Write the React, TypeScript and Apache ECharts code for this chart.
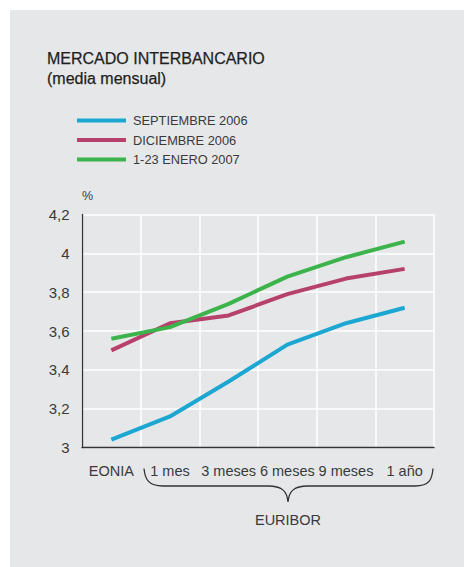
import React, { useEffect, useRef } from "react";
import * as echarts from "echarts";

const categories = ["EONIA", "1 mes", "3 meses", "6 meses", "9 meses", "1 año"];
const seriesNames = ["SEPTIEMBRE 2006", "DICIEMBRE 2006", "1-23 ENERO 2007"];
const septiembre2006 = [3.04, 3.16, 3.34, 3.53, 3.64, 3.72];
const diciembre2006 = [3.5, 3.64, 3.68, 3.79, 3.87, 3.92];
const enero2007 = [3.56, 3.62, 3.74, 3.88, 3.98, 4.06];
const seriesColors = ["#1ba7d2", "#b6416c", "#3cb34b"];

const FONT = "'Liberation Sans', Arial, Helvetica, sans-serif";
const TEXT = "#3a3a3a";

const bracePath =
  "M144,468.5 C145,479 148,486 163,486 L268,486 C282,486 287,491 288,502 C289,491 294,486 308,486 L415,486 C430,486 432,479 433,468.5";

let registered = false;

export default function App() {
  const ref = useRef<HTMLDivElement>(null);
  useEffect(() => {
    document.body.style.margin = "0";
    if (!registered) {
      echarts.graphic.registerShape("brace", echarts.graphic.extendPath(bracePath, {}) as any);
      registered = true;
    }
    const chart = echarts.init(ref.current!, null, { renderer: "svg" });
    const data = [septiembre2006, diciembre2006, enero2007];
    chart.setOption({
      animation: false,
      backgroundColor: "#ffffff",
      textStyle: { fontFamily: FONT },
      graphic: [
        {
          type: "rect",
          z: -10,
          silent: true,
          shape: { x: 10, y: 10, width: 454, height: 557 },
          style: { fill: "#e6e7e8" },
        },
        {
          type: "text",
          x: 47,
          y: 58,
          style: {
            text: "MERCADO INTERBANCARIO",
            fontFamily: FONT,
            fontSize: 16,
            fill: "#1e1e1e",
            stroke: "#1e1e1e",
            lineWidth: 0.25,
            verticalAlign: "middle",
          },
        },
        {
          type: "text",
          x: 47,
          y: 78.5,
          style: {
            text: "(media mensual)",
            fontFamily: FONT,
            fontSize: 16,
            fill: "#1e1e1e",
            stroke: "#1e1e1e",
            lineWidth: 0.25,
            verticalAlign: "middle",
          },
        },
        {
          type: "brace",
          x: 0,
          y: 0,
          style: { stroke: "#333333", fill: "none", lineWidth: 1.3 },
        },
        {
          type: "text",
          x: 288,
          y: 520,
          style: {
            text: "EURIBOR",
            fontFamily: FONT,
            fontSize: 14.5,
            fill: TEXT,
            align: "center",
            verticalAlign: "middle",
          },
        },
      ],
      legend: {
        orient: "vertical",
        left: 77,
        top: 114,
        padding: 0,
        itemWidth: 49,
        itemHeight: 4,
        itemGap: 6.5,
        icon: "rect",
        data: seriesNames,
        textStyle: { fontFamily: FONT, fontSize: 12.8, color: TEXT, padding: [0, 0, 0, 2] },
      },
      grid: { left: 82, right: 30, top: 214.5, bottom: 119.5, containLabel: false },
      xAxis: {
        type: "category",
        data: categories,
        boundaryGap: true,
        axisLine: { show: true, lineStyle: { color: "#333333", width: 1.3 } },
        axisTick: { show: false },
        splitLine: { show: true, lineStyle: { color: "#ffffff", width: 1.5 } },
        axisLabel: { fontFamily: FONT, fontSize: 14.5, color: TEXT, margin: 16, interval: 0 },
      },
      yAxis: {
        type: "value",
        min: 3,
        max: 4.2,
        interval: 0.2,
        name: "%",
        nameLocation: "end",
        nameGap: 12,
        nameTextStyle: { fontFamily: FONT, fontSize: 12.5, color: TEXT, align: "left" },
        axisLine: { show: true, lineStyle: { color: "#333333", width: 1.3 } },
        axisTick: { show: false },
        splitLine: { show: true, lineStyle: { color: "#ffffff", width: 1.5 } },
        axisLabel: {
          fontFamily: FONT,
          fontSize: 15,
          color: TEXT,
          margin: 12.5,
          formatter: (v: number) => String(Math.round(v * 10) / 10).replace(".", ","),
        },
      },
      series: seriesNames.map((name, i) => ({
        name,
        type: "line",
        data: data[i],
        showSymbol: false,
        symbol: "none",
        color: seriesColors[i],
        lineStyle: { width: 4, color: seriesColors[i] },
        z: 2 + i,
      })),
    });
    return () => chart.dispose();
  }, []);
  return <div ref={ref} style={{ width: 464, height: 567 }} />;
}
